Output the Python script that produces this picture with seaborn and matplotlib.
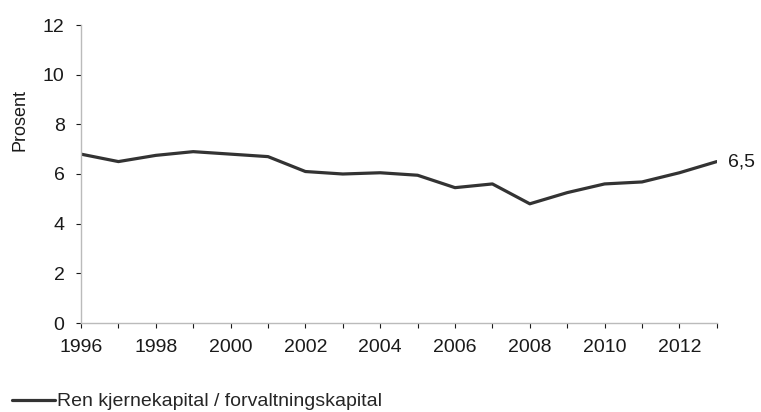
import matplotlib
matplotlib.use("Agg")
import matplotlib.pyplot as plt
import seaborn as sns
import pandas as pd

years = list(range(1996, 2014))
values = [6.8, 6.5, 6.75, 6.9, 6.8, 6.7, 6.1, 6.0, 6.05, 5.95, 5.45, 5.6, 4.8, 5.25, 5.6, 5.68, 6.05, 6.5]
series_name = "Ren kjernekapital / forvaltningskapital"
end_label = "6,5"

sns.set_theme(style="white")
plt.rcParams['font.family'] = ['Liberation Sans', 'DejaVu Sans']

df = pd.DataFrame({"year": years, "value": values})

fig = plt.figure(figsize=(7.61, 4.12), dpi=100)
ax = fig.add_axes([81/761, 1 - 323/412, (716.4 - 80.6)/761, (323 - 25)/412])

sns.lineplot(data=df, x="year", y="value", ax=ax, color="#333333", linewidth=2.3, label=series_name)

ax.set_xlim(1996, 2013)
ax.set_ylim(0, 12)
ax.set_xticks(range(1996, 2014))
ax.set_xticklabels([str(y) if y % 2 == 0 else "" for y in years])
ax.set_yticks(range(0, 13, 2))
ax.tick_params(axis="both", labelsize=14, colors="#1a1a1a", length=3.8, width=0.8, direction="out",
               bottom=True, left=True)
ax.tick_params(axis="y", pad=8)
ax.tick_params(axis="x", pad=8)
for t in ax.get_xticklines() + ax.get_yticklines():
    t.set_color("#aaaaaa")
for s in ["top", "right"]:
    ax.spines[s].set_visible(False)
for s in ["left", "bottom"]:
    ax.spines[s].set_color("#bbbbbb")
    ax.spines[s].set_linewidth(1.0)

ax.set_xlabel("")
ax.set_ylabel("Prosent", fontsize=13, color="#1a1a1a")
ax.yaxis.set_label_coords(-0.082, 0.68)

ax.annotate(end_label, xy=(years[-1], values[-1]), xytext=(8, 0), textcoords="offset points",
            va="center", ha="left", fontsize=14, color="#1a1a1a", annotation_clip=False)

ax.get_legend().remove()
handles, labels = ax.get_legend_handles_labels()
fig.legend(handles, labels, loc="center left", bbox_to_anchor=(12/761, 10.5/412), frameon=False,
           fontsize=14, handlelength=2.2, handletextpad=0.1, borderpad=0, borderaxespad=0)

fig.savefig("out.png", dpi=100)
